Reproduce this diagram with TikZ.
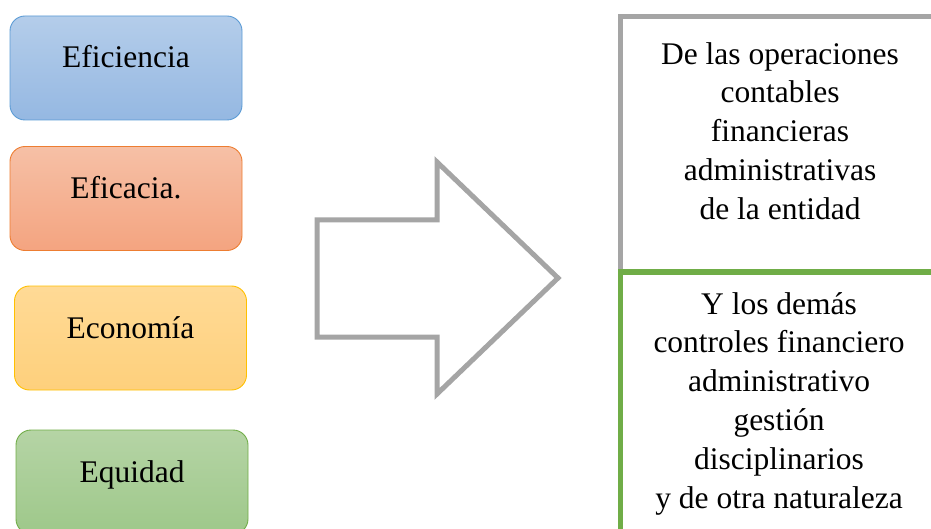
\documentclass[tikz,border=0pt]{standalone}
\usepackage{fontspec}
\setmainfont{Liberation Serif}
\usetikzlibrary{positioning}
\definecolor{gris}{HTML}{A5A5A5}
\definecolor{azul}{HTML}{5B9BD5}
\definecolor{naranja}{HTML}{ED7D31}
\definecolor{oro}{HTML}{FFC000}
\definecolor{verde}{HTML}{70AD47}

\begin{document}
\begin{tikzpicture}[x=1pt,y=-1pt,
  caja/.style={draw,rounded corners=15pt,line width=0.9pt,minimum width=232pt,minimum height=104pt,
    inner sep=0pt,text height=0pt,text depth=0pt,font=\fontsize{31.5}{38.8}\selectfont},
  marco/.style={draw,line width=5pt,minimum width=330pt,inner sep=0pt},
  texto/.style={align=center,inner sep=0pt,font=\fontsize{31.5}{38.8}\selectfont}]
\useasboundingbox (0,0) rectangle (931,529);
\clip (0,0) rectangle (931,529);
\node[caja,draw=azul,top color={rgb,255:red,180;green,205;blue,234},bottom color={rgb,255:red,149;green,184;blue,226}] (efi) at (126,68) {Eficiencia};
\node[caja,draw=naranja,top color={rgb,255:red,246;green,192;blue,166},bottom color={rgb,255:red,244;green,164;blue,128}] (efc) at (126,198.5) {Eficacia.};
\node[caja,draw=oro,top color={rgb,255:red,255;green,218;blue,150},bottom color={rgb,255:red,254;green,208;blue,124}] (eco) at (130.5,338) {Economía};
\node[caja,draw=verde,top color={rgb,255:red,181;green,212;blue,165},bottom color={rgb,255:red,158;green,200;blue,138}] (equ) at (132,482) {Equidad};
% flecha hueca
\draw[gris,line width=5pt] (317,220) -- (437,220) -- (437,162) -- (558,278) -- (437,394) -- (437,337) -- (317,337) -- cycle;
\node[marco,draw=gris,minimum height=255pt] (marcoA) at (785,144.5) {};
\node[marco,draw=verde,minimum height=288pt] (marcoB) at (785,416) {};
\node[texto] (textoA) at (780,131) {De las operaciones\\contables\\financieras\\administrativas\\de la entidad};
\node[texto] (textoB) at (779,403.5) {Y los demás\\controles financiero\\administrativo\\gestión\\disciplinarios\\y de otra naturaleza};
\end{tikzpicture}
\end{document}
